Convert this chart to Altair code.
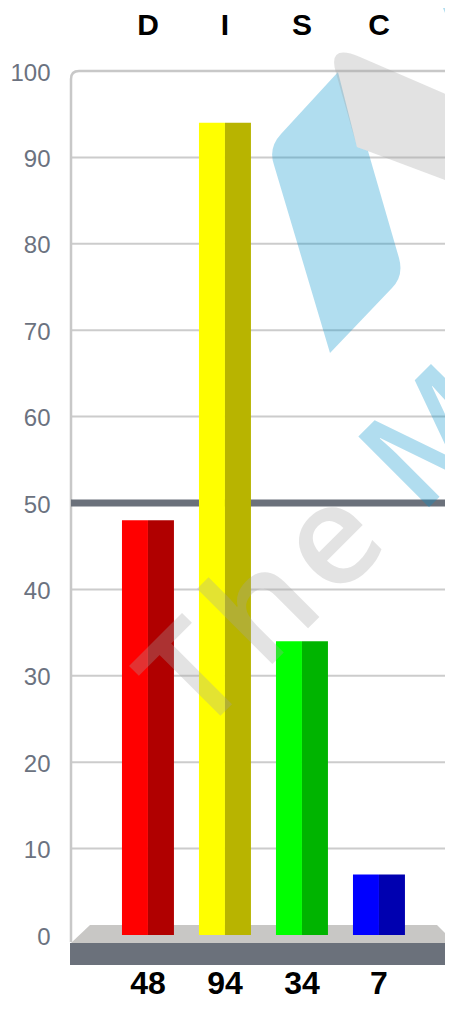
import altair as alt
import pandas as pd

# ---- data ----
cats = ["D", "I", "S", "C"]
values = [48, 94, 34, 7]
light_colors = ["#ff0000", "#ffff00", "#00ff00", "#0000ff"]
dark_colors = ["#b00000", "#b8b400", "#00b400", "#0000b0"]
y_ticks = list(range(0, 101, 10))
grid_values = list(range(10, 100, 10))
ref_value = [50]
floor_mid = [-0.93]
floor_bottom = [-3.47]
wm_letters = ["T", "h", "e", "M"]
wm_colors = ["#a5a5a5", "#a5a5a5", "#a5a5a5", "#0091cb"]

FONT = "Liberation Sans"
W, H = 374, 864
PL, PT, PB = 63, 63, 67
OX, OY = PL + 8, PT + 8  # page position of plot origin

rows = []
for c, v, lc, dc in zip(cats, values, light_colors, dark_colors):
    rows.append({"cat": c, "half": "a", "val": v, "col": lc})
    rows.append({"cat": c, "half": "b", "val": v, "col": dc})
bars_df = pd.DataFrame(rows)
vals_df = pd.DataFrame({"cat": cats, "val": values})

# band step 77px, bar 52px, first bar 51px from the left edge
xscale = alt.Scale(domain=cats, paddingInner=0.325, paddingOuter=0.591, align=0.56)
yscale = alt.Scale(domain=[0, 100], nice=False, zero=True)

x_axis = alt.Axis(orient="top", title=None, domain=False, ticks=False, tickSize=0,
                  labelFontSize=30, labelFontWeight="bold", labelColor="black",
                  labelPadding=31, labelFont=FONT, labelAngle=0, grid=False)
y_axis = alt.Axis(values=y_ticks, title=None, grid=False,
                  domain=False, ticks=False, tickSize=0, labelFontSize=24,
                  labelColor="#6b7280", labelPadding=21, labelFont=FONT, labelOffset=2)


def shape_chart(cmds, color, opacity, filled=True, stroke_width=0):
    pts = [p for c in cmds for p in c[1:]]
    xs = [p[0] - OX for p in pts]
    ys = [p[1] - OY for p in pts]
    cx = (min(xs) + max(xs)) / 2
    cy = (min(ys) + max(ys)) / 2
    s = max((max(xs) - min(xs)) / 2, (max(ys) - min(ys)) / 2)
    parts = []
    for c in cmds:
        coords = " ".join(f"{(p[0] - OX - cx) / s:.5f},{(p[1] - OY - cy) / s:.5f}" for p in c[1:])
        parts.append(c[0] + coords)
    path = " ".join(parts)
    return alt.Chart(alt.Data(values=[{"k": 1}])).mark_point(
        shape=path, filled=filled, color=color, opacity=opacity, size=4 * s * s,
        strokeWidth=stroke_width
    ).encode(x=alt.value(cx), y=alt.value(cy))


grid = alt.Chart(pd.DataFrame({"g": grid_values})).mark_rule(color="#cccccc", strokeWidth=2).encode(
    y=alt.Y("g:Q", scale=yscale), x=alt.value(0), x2=alt.value(W)
)

border = shape_chart(
    [("M", (71, 942)), ("L", (71, 79)), ("Q", (71, 71), (79, 71)), ("L", (446, 71))],
    "#c8c8c8", 1.0, filled=False, stroke_width=2.5)

# reference line at 50
ref = alt.Chart(pd.DataFrame({"ref": ref_value})).mark_rule(color="#6b717b", strokeWidth=7).encode(
    y=alt.Y("ref:Q", scale=yscale), x=alt.value(0), x2=alt.value(W)
)

# floor
light_floor = shape_chart(
    [("M", (71, 943)), ("L", (90, 925)), ("L", (437, 925)), ("L", (455, 943)), ("Z",)],
    "#c8c7c5", 1.0)
dark_floor = alt.Chart(pd.DataFrame({"a": floor_mid, "b": floor_bottom})).mark_rect(color="#6b717b").encode(
    y=alt.Y("a:Q", scale=yscale), y2="b:Q", x=alt.value(-1), x2=alt.value(W + 2)
)

bars = alt.Chart(bars_df).mark_bar().encode(
    x=alt.X("cat:N", scale=xscale, axis=x_axis),
    xOffset=alt.XOffset("half:N", scale=alt.Scale(paddingInner=0, paddingOuter=0)),
    y=alt.Y("val:Q", scale=yscale, axis=y_axis),
    color=alt.Color("col:N", scale=None),
)

value_labels = alt.Chart(vals_df).mark_text(
    fontSize=32, fontWeight="bold", font=FONT, color="black", baseline="alphabetic"
).encode(
    x=alt.X("cat:N", scale=xscale),
    y=alt.value(994 - OY),
    text="val:Q",
)

# watermark letters, placed along a 45 degree baseline (page coords of letter centres)
wm_pos = [(226.3, 710.0), (295.6, 640.6), (363.1, 573.1), (465.3, 470.9)]
wm_layers = []
for letter, col, (px, py) in zip(wm_letters, wm_colors, wm_pos):
    wm_layers.append(
        alt.Chart(alt.Data(values=[{"t": letter}])).mark_text(
            angle=315, fontSize=140, font="Open Sans", fontWeight=600, align="center",
            baseline="alphabetic", color=col, opacity=0.30
        ).encode(x=alt.value(px - OX), y=alt.value(py - OY), text="t:N")
    )

blue_ribbon = shape_chart(
    [("M", (338, 72)), ("L", (281, 134)), ("Q", (268, 148), (274, 165)),
     ("L", (330, 353)), ("L", (392, 288)), ("Q", (404, 276), (399, 258)),
     ("L", (368, 151)), ("L", (357, 147)), ("Z",)],
    "#0091cb", 0.31)
gray_ribbon = shape_chart(
    [("M", (357, 147)), ("L", (336, 73)), ("Q", (327, 43), (360, 57)),
     ("L", (480, 109)), ("L", (480, 193)), ("Z",)],
    "#a1a1a1", 0.31)
blue_sliver = shape_chart(
    [("M", (443, 8)), ("L", (480, 8)), ("L", (480, 40)), ("L", (456, 40)), ("Z",)],
    "#0091cb", 0.31)

chart = alt.layer(
    grid, border, ref, light_floor, dark_floor, bars, value_labels, *wm_layers,
    blue_ribbon, gray_ribbon, blue_sliver
).properties(
    width=W, height=H,
    autosize=alt.AutoSizeParams(type="none"),
    padding={"left": PL, "top": PT, "right": 0, "bottom": PB},
).configure_view(
    stroke="transparent", strokeWidth=0
)

chart.save("out.html", embed_options={"renderer": "svg", "actions": False})
